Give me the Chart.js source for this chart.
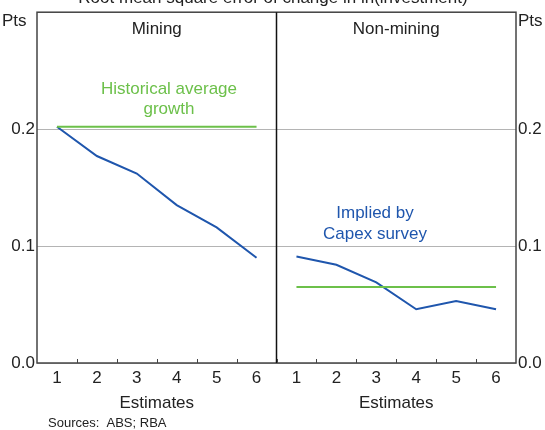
<!DOCTYPE html>
<html>
<head>
<meta charset="utf-8">
<script src="https://cdn.jsdelivr.net/npm/chart.js@4"></script>
<style>
  body { margin: 0; background: #fff; }
  #wrap { position: relative; width: 545px; height: 430px; overflow: hidden; }
  canvas { position: absolute; left: 0; top: 0; }
</style>
</head>
<body>
<div id="wrap"><canvas id="myChart" width="545" height="430"></canvas></div>
<script>
// estimates 1..6 for each panel
const estimates = [1, 2, 3, 4, 5, 6];
const miningCapex = [0.202, 0.177, 0.162, 0.135, 0.116, 0.090];
const miningHistorical = [0.202, 0.202, 0.202, 0.202, 0.202, 0.202];
const nonMiningCapex = [0.091, 0.084, 0.069, 0.046, 0.053, 0.046];
const nonMiningHistorical = [0.065, 0.065, 0.065, 0.065, 0.065, 0.065];
const yTicks = [0, 0.1, 0.2, 0.3];

const blue = "#1f56ad";
const green = "#6cc04a";
const font = "'Liberation Sans', Arial, sans-serif";

function points(values, panel) {
  return values.map((v, i) => ({ x: estimates[i] + panel * 6, y: v }));
}

// frame, divider, tick marks and text
const decor = {
  id: "decor",
  afterDatasetsDraw(chart) {
    const ctx = chart.ctx;
    const a = chart.chartArea;
    const x = chart.scales.x;
    ctx.save();
    ctx.strokeStyle = "#444";
    ctx.lineWidth = 1.5;
    ctx.strokeRect(a.left, a.top, a.right - a.left, a.bottom - a.top);
    let mid = x.getPixelForValue(6.5);
    ctx.strokeStyle = "#111";
    ctx.beginPath();
    ctx.moveTo(mid, a.top);
    ctx.lineTo(mid, a.bottom);
    ctx.stroke();
    // tick marks between categories
    ctx.strokeStyle = "#444";
    ctx.lineWidth = 1;
    for (let t = 1.5; t < 12.5; t++) {
      let px = Math.round(x.getPixelForValue(t)) + 0.5;
      ctx.beginPath();
      ctx.moveTo(px, a.bottom);
      ctx.lineTo(px, a.bottom - 4);
      ctx.stroke();
    }
    ctx.textAlign = "center";
    ctx.textBaseline = "alphabetic";
    ctx.fillStyle = "#222";
    ctx.font = "17px " + font;
    let c1 = x.getPixelForValue(3.5);
    let c2 = x.getPixelForValue(9.5);
    ctx.fillText("Mining", c1, 34);
    ctx.fillText("Non-mining", c2, 34);
    ctx.fillText("Estimates", c1, 408);
    ctx.fillText("Estimates", c2, 408);
    ctx.fillText("Root mean square error of change in ln(investment)", 273, 3);
    ctx.textAlign = "left";
    ctx.fillText("Pts", 2, 26);
    ctx.fillText("Pts", 518, 26);
    ctx.font = "13px " + font;
    ctx.fillText("Sources:  ABS; RBA", 48, 427);
    ctx.textAlign = "center";
    ctx.font = "17px " + font;
    ctx.fillStyle = green;
    ctx.fillText("Historical average", 169, 94);
    ctx.fillText("growth", 169, 114);
    ctx.fillStyle = blue;
    ctx.fillText("Implied by", 375, 218);
    ctx.fillText("Capex survey", 375, 239);
    ctx.restore();
  },
};

const lineStyle = { borderWidth: 2, pointRadius: 0, fill: false, tension: 0 };

const tickFont = { family: font, size: 17 };

new Chart(document.getElementById("myChart"), {
  type: "line",
  data: {
    datasets: [
      { data: points(miningHistorical, 0), borderColor: green, ...lineStyle },
      { data: points(miningCapex, 0), borderColor: blue, ...lineStyle },
      { data: points(nonMiningHistorical, 1), borderColor: green, ...lineStyle },
      { data: points(nonMiningCapex, 1), borderColor: blue, ...lineStyle },
    ],
  },
  plugins: [decor],
  options: {
    responsive: false,
    animation: false,
    layout: { padding: { top: 11, left: 0, right: 0, bottom: 0 } },
    plugins: { legend: { display: false }, tooltip: { enabled: false } },
    scales: {
      x: {
        type: "linear",
        min: 0.5,
        max: 12.5,
        afterBuildTicks(scale) {
          scale.ticks = estimates.concat(estimates.map((e) => e + 6)).map((v) => ({ value: v }));
        },
        afterFit(scale) { scale.height = 67; },
        grid: { display: false, drawTicks: false },
        border: { display: false },
        ticks: {
          autoSkip: false,
          maxRotation: 0,
          padding: 5,
          color: "#222",
          font: tickFont,
          callback: (v) => ((v - 1) % 6) + 1,
        },
      },
      y: {
        position: "left",
        min: 0,
        max: 0.3,
        afterBuildTicks(scale) { scale.ticks = yTicks.map((v) => ({ value: v })); },
        afterFit(scale) { scale.width = 37; },
        grid: { color: "#b4b4b4", lineWidth: 1, drawTicks: false },
        border: { display: false },
        ticks: {
          padding: 2,
          color: "#222",
          font: tickFont,
          callback: (v) => (v > 0.25 ? "" : v.toFixed(1)),
        },
      },
      y2: {
        position: "right",
        min: 0,
        max: 0.3,
        afterBuildTicks(scale) { scale.ticks = yTicks.map((v) => ({ value: v })); },
        afterFit(scale) { scale.width = 29; },
        grid: { display: false, drawTicks: false },
        border: { display: false },
        ticks: {
          padding: 2,
          color: "#222",
          font: tickFont,
          callback: (v) => (v > 0.25 ? "" : v.toFixed(1)),
        },
      },
    },
  },
});
</script>
</body>
</html>
